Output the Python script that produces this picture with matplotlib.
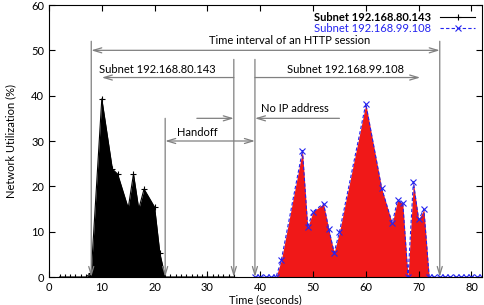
import numpy as np
import matplotlib
matplotlib.use('Agg')
from matplotlib import pyplot as plt
from matplotlib.lines import Line2D

plt.rcParams['font.family'] = ['Lato', 'DejaVu Sans']
plt.rcParams['font.size'] = 8

# Subnet 192.168.80.143 (black)
t_a = [2, 3, 4, 5, 6, 7, 8, 10, 12, 13, 15, 16, 17, 18, 20, 21, 22,
       23, 24, 25, 26, 27, 28, 29, 30, 31, 32, 33, 34, 35]
u_a = [0, 0, 0, 0, 0, 0, 0.9, 39.3, 23.8, 22.7, 15.2, 22.7, 15.0, 19.4, 15.4, 5.2, 0,
       0, 0, 0, 0, 0, 0, 0, 0, 0, 0, 0, 0, 0]

# Subnet 192.168.99.108 (blue/red)
t_b = [39, 40, 41, 42, 43, 44, 48, 49, 50, 52, 53, 54, 55, 60, 63, 65, 66, 67,
       68, 69, 70, 71, 72, 73, 74, 75, 76, 77, 78, 79, 80, 81, 82]
u_b = [0, 0, 0, 0, 0, 3.75, 27.9, 11.0, 14.4, 16.2, 10.5, 5.4, 9.9, 38.2, 19.6, 11.85, 16.9, 16.3,
       0, 21.0, 12.7, 14.9, 0, 0, 0, 0, 0, 0, 0, 0, 0, 0, 0]

label_a = 'Subnet 192.168.80.143'
label_b = 'Subnet 192.168.99.108'

blue = '#2424f0'
red = '#f01818'
gray = '#808080'

fig = plt.figure(figsize=(4.85, 3.05), dpi=100)
ax = fig.add_axes([49 / 485, 28 / 305, 433 / 485, 272 / 305])

ax.fill_between(t_a, u_a, color='black', lw=0)
ax.plot(t_a, u_a, color='black', lw=0.8, marker='+', ms=5, mew=0.8)
ax.fill_between(t_b, u_b, color=red, lw=0)
ax.plot(t_b, u_b, color=blue, lw=0.8, ls=(0, (3, 2)), marker='x', ms=4, mew=0.8)

ax.set_xlim(0, 82)
ax.set_ylim(0, 60)
ax.set_xticks(range(0, 81, 10))
ax.set_yticks(range(0, 61, 10))
ax.tick_params(direction='in', top=True, right=True, length=4, width=0.8, labelsize=8)
ax.set_xlabel('Time (seconds)', labelpad=1)
ax.set_ylabel('Network Utilization (%)', labelpad=11)


def arrow(x0, y0, x1, y1, style='->'):
    ax.annotate('', xy=(x1, y1), xytext=(x0, y0),
                arrowprops=dict(arrowstyle=style + ',head_length=0.6,head_width=0.18',
                                color=gray, lw=0.9, shrinkA=0, shrinkB=0,
                                mutation_scale=10))


# vertical markers
arrow(8, 52, 8, 0)
arrow(74, 52, 74, 0)
arrow(35, 48, 35, 0)
arrow(39, 48, 39, 0)
arrow(22, 35, 22, 0)

# horizontal intervals
arrow(8, 50, 74, 50, '<->')
arrow(35, 44, 10, 44)
arrow(39, 44, 70.3, 44)
arrow(28, 35, 35, 35)
arrow(22, 30, 39, 30, '<->')
arrow(55, 35, 39, 35)

ax.text(45.5, 52.1, 'Time interval of an HTTP session', ha='center', va='center')
ax.text(20.5, 45.7, 'Subnet 192.168.80.143', ha='center', va='center')
ax.text(56.1, 45.7, 'Subnet 192.168.99.108', ha='center', va='center')
ax.text(28.0, 31.9, 'Handoff', ha='center', va='center')
ax.text(46.6, 37.1, 'No IP address', ha='center', va='center')

handles = [Line2D([], [], color='black', lw=0.8, marker='+', ms=5, mew=0.8),
           Line2D([], [], color=blue, lw=0.8, ls=(0, (3, 2)), marker='x', ms=4, mew=0.8)]
leg = ax.legend(handles, [label_a, label_b], loc='upper right', frameon=False,
                markerfirst=False, handlelength=3.2, handletextpad=0.8,
                labelspacing=0.05, borderaxespad=0.2, fontsize=8)
texts = leg.get_texts()
texts[0].set_fontweight('bold')
texts[1].set_color(blue)

fig.savefig('out.png', dpi=100)
